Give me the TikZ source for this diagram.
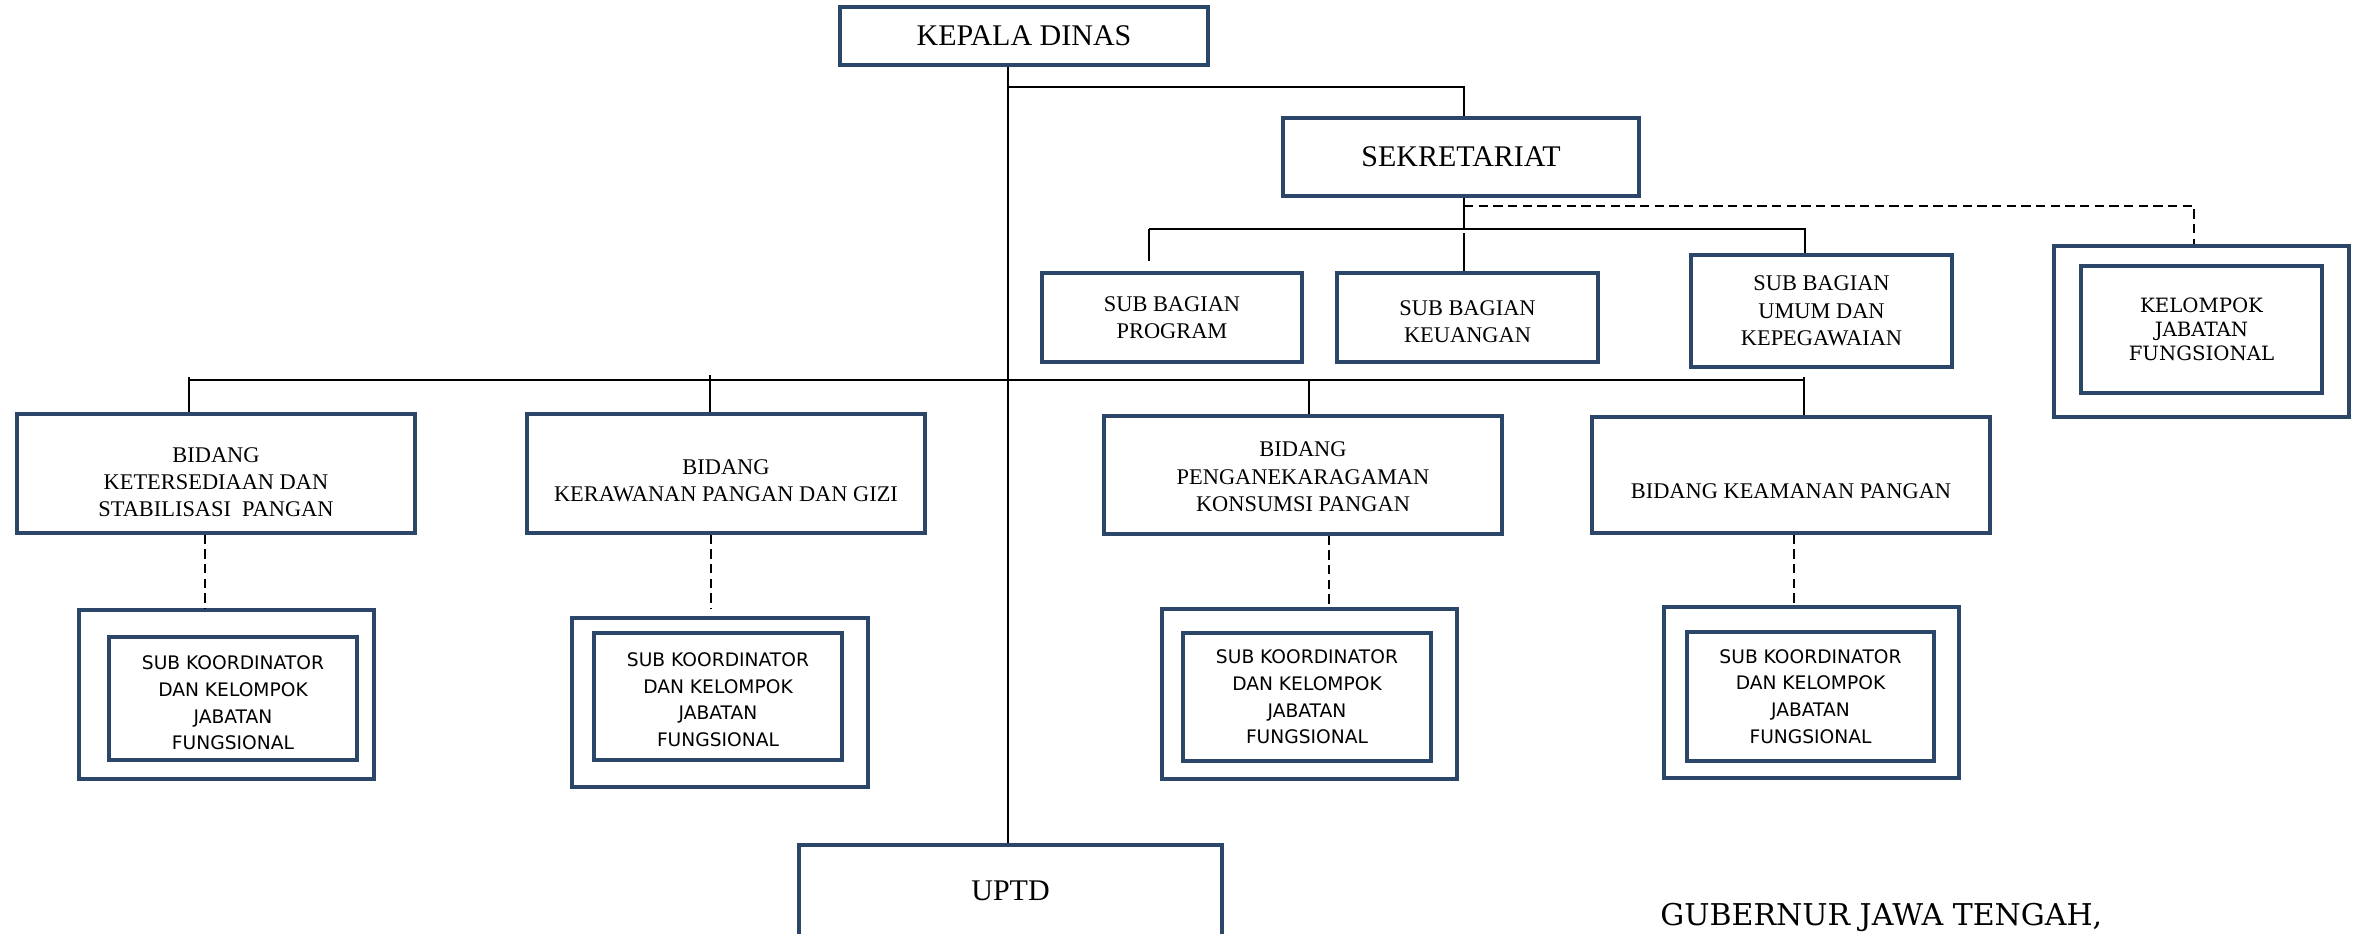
\documentclass[tikz,border=0pt]{standalone}
\usepackage{fontspec}
\setmainfont{Liberation Serif}
\newfontfamily\sansf{DejaVu Sans}
\newfontfamily\bookf{DejaVu Serif}
\definecolor{bx}{RGB}{44,70,105}
\tikzset{
  box/.style={draw=bx, line width=2.4pt, inner sep=0pt, align=center},
  bigtxt/.style={font=\fontsize{22.5}{27}\selectfont},
  midtxt/.style={font=\fontsize{16.8}{20.5}\selectfont, align=center},
  sanstxt/.style={font=\sansf\fontsize{14}{20}\selectfont},
  booktxt/.style={font=\bookf\fontsize{14.8}{18}\selectfont},
  conn/.style={line width=1.3pt, black},
  dashln/.style={line width=1.3pt, black, dash pattern=on 7pt off 4pt},
}
\begin{document}
\begin{tikzpicture}[x=0.75pt, y=-0.75pt]
\fill[white] (0,0) rectangle (2354,933);
\useasboundingbox (0,0) rectangle (2354,933);

% top level
\node[box, bigtxt, minimum width=276pt, minimum height=43.5pt] (kepala) at (1024,36) {KEPALA DINAS};
\node[box, bigtxt, minimum width=267pt, minimum height=58.5pt] (sekr) at (1461,157) {SEKRETARIAT};

% sub bagian
\node[box, midtxt, minimum width=195pt, minimum height=66.75pt] (sbprog) at (1172,317.5) {SUB BAGIAN\\PROGRAM};
\node[box, minimum width=195.75pt, minimum height=66.75pt,
  label={[midtxt, yshift=-3pt]center:SUB BAGIAN\\KEUANGAN}] (sbkeu) at (1467.5,317.5) {};
\node[box, midtxt, minimum width=195.75pt, minimum height=84pt] (sbumum) at (1821.5,311) {SUB BAGIAN\\UMUM DAN\\KEPEGAWAIAN};

% kelompok jabatan fungsional
\node[box, minimum width=221.25pt, minimum height=128.25pt] (kjfo) at (2201.5,331.5) {};
\node[box, booktxt, minimum width=180.75pt, minimum height=95.25pt] (kjfi) at (2201.5,329.5) {KELOMPOK\\JABATAN\\FUNGSIONAL};

% bidang
\node[box, minimum width=298.5pt, minimum height=89.25pt,
  label={[midtxt, yshift=-6.4pt]center:BIDANG\\KETERSEDIAAN DAN\\STABILISASI\ \ PANGAN}] (b1) at (216,473.5) {};
\node[box, minimum width=298.5pt, minimum height=89.25pt,
  label={[midtxt, yshift=-5.6pt]center:BIDANG\\KERAWANAN PANGAN DAN GIZI}] (b2) at (726,473.5) {};
\node[box, minimum width=298.5pt, minimum height=88.5pt,
  label={[midtxt, yshift=-1.5pt]center:BIDANG\\PENGANEKARAGAMAN\\KONSUMSI PANGAN}] (b3) at (1303,475) {};
\node[box, minimum width=298.5pt, minimum height=87pt,
  label={[midtxt, yshift=-12pt]center:BIDANG KEAMANAN PANGAN}] (b4) at (1791,475) {};

% sub koordinator boxes
\node[box, minimum width=221.25pt, minimum height=126.75pt] (s1o) at (226.5,694.5) {};
\node[box, minimum width=186pt, minimum height=92.25pt,
  label={[sanstxt, align=center, yshift=-3.5pt]center:SUB KOORDINATOR\\DAN KELOMPOK\\JABATAN\\FUNGSIONAL}] (s1i) at (233,698.5) {};
\node[box, minimum width=222pt, minimum height=126.75pt] (s2o) at (720,702.5) {};
\node[box, minimum width=186pt, minimum height=95.25pt,
  label={[sanstxt, align=center, yshift=-2.5pt]center:SUB KOORDINATOR\\DAN KELOMPOK\\JABATAN\\FUNGSIONAL}] (s2i) at (718,696.5) {};
\node[box, minimum width=221.25pt, minimum height=127.5pt] (s3o) at (1309.5,694) {};
\node[box, sanstxt, minimum width=186pt, minimum height=96pt] (s3i) at (1307,697) {SUB KOORDINATOR\\DAN KELOMPOK\\JABATAN\\FUNGSIONAL};
\node[box, minimum width=221.25pt, minimum height=128.25pt] (s4o) at (1811.5,692.5) {};
\node[box, sanstxt, minimum width=185.25pt, minimum height=96.75pt] (s4i) at (1810.5,696.5) {SUB KOORDINATOR\\DAN KELOMPOK\\JABATAN\\FUNGSIONAL};

% UPTD
\node[box, bigtxt, minimum width=317.25pt, minimum height=68.25pt] (uptd) at (1010.5,890.5) {UPTD};

% signature
\node[anchor=base west, inner sep=0pt, font=\bookf\fontsize{22.5}{27}\selectfont] (gub) at (1660,925) {GUBERNUR JAWA TENGAH,};

% junction coordinates
\coordinate (j1) at (1008,87);
\coordinate (j2) at (1464,87);
\coordinate (sbL) at (1149,229);
\coordinate (sbR) at (1805,229);
\coordinate (dsh) at (2194,206);
\coordinate (hL) at (189,380);
\coordinate (hR) at (1804,380);
\coordinate (t1) at (189,377);
\coordinate (t2) at (710,375);
\coordinate (t3) at (1309,380);
\coordinate (t4) at (1804,377);

% spine
\draw[conn] (kepala.south -| j1) -- (uptd.north -| j1);
% to sekretariat
\draw[conn] (j1) -- (j2) -- (sekr.north -| j2);
% sekretariat down to sub bagian bar
\draw[conn] (sekr.south -| j2) -- (sbL -| j2);
\draw[conn] (sbL) -- (sbR) -- (sbumum.north -| sbR);
\draw[conn] (sbL) -- ++(0,32);
\draw[conn] (sbkeu.north -| j2) -- ++(0,-38);
% dashed to kelompok jabatan fungsional
\draw[dashln] (dsh -| j2) -- (dsh) -- (kjfo.north -| dsh);

% bidang bar
\draw[conn] (hL) -- (hR);
\draw[conn] (t1) -- (b1.north -| t1);
\draw[conn] (t2) -- (b2.north -| t2);
\draw[conn] (t3) -- (b3.north -| t3);
\draw[conn] (t4) -- (b4.north -| t4);

% dashed to sub koordinator
\draw[dashln] (b1.south -| 205,0) -- (s1o.north -| 205,0);
\draw[dashln] (b2.south -| 711,0) -- ([yshift=5.25pt]s2o.north -| 711,0);
\draw[dashln] (b3.south -| 1329,0) -- ([yshift=1.5pt]s3o.north -| 1329,0);
\draw[dashln] (b4.south -| 1794,0) -- (s4o.north -| 1794,0);
\end{tikzpicture}
\end{document}
